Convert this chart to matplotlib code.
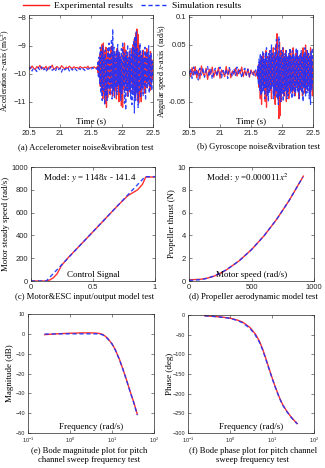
import numpy as np
import matplotlib
matplotlib.use("Agg")
import matplotlib.pyplot as plt
from matplotlib.ticker import FuncFormatter

plt.rcParams['font.family'] = ['Liberation Serif', 'DejaVu Serif']
plt.rcParams['mathtext.fontset'] = 'stix'

# ---- (a)/(b) noise & vibration tests ----
t_quiet = np.linspace(20.5, 21.575, 44)
t_active = np.linspace(21.6, 22.5, 91)

acc_exp_quiet = [-9.76, -9.82, -9.72, -9.80, -9.85, -9.74, -9.79, -9.70, -9.83, -9.77,
                 -9.81, -9.73, -9.86, -9.75, -9.78, -9.69, -9.84, -9.80, -9.74, -9.79,
                 -9.82, -9.71, -9.77, -9.83, -9.76, -9.80, -9.73, -9.78, -9.81, -9.75,
                 -9.79, -9.77, -9.82, -9.74, -9.78, -9.80, -9.76, -9.79, -9.73, -9.81,
                 -9.77, -9.78, -9.75, -9.80]
acc_sim_quiet = [-9.85, -9.76, -9.90, -9.79, -9.84, -9.92, -9.78, -9.87, -9.75, -9.89,
                 -9.81, -9.93, -9.80, -9.86, -9.74, -9.88, -9.83, -9.91, -9.77, -9.85,
                 -9.80, -9.94, -9.79, -9.86, -9.82, -9.76, -9.90, -9.81, -9.87, -9.78,
                 -9.84, -9.89, -9.80, -9.85, -9.77, -9.83, -9.88, -9.79, -9.84, -9.81,
                 -9.86, -9.78, -9.83, -9.80]
acc_exp_active = [-9.75, -9.95, -9.55, -10.10, -9.30, -10.45, -9.10, -10.60, -8.95, -10.90,
                  -8.90, -10.70, -9.20, -11.05, -9.05, -11.20, -9.40, -10.85, -9.15, -10.40,
                  -9.30, -10.75, -9.05, -10.50, -9.00, -10.80, -9.35, -10.30, -9.20, -10.60,
                  -9.45, -10.90, -9.10, -10.45, -9.30, -11.00, -9.25, -10.70, -9.40, -11.15,
                  -9.60, -11.20, -9.05, -10.55, -8.90, -10.35, -9.15, -10.60, -9.35, -10.80,
                  -9.50, -10.40, -9.20, -10.65, -9.45, -10.30, -9.10, -10.70, -8.95, -10.50,
                  -8.75, -10.85, -8.55, -10.60, -8.40, -10.95, -8.60, -11.05, -9.00, -10.80,
                  -9.20, -11.00, -9.35, -10.55, -9.15, -10.40, -9.40, -10.70, -9.25, -10.30,
                  -9.10, -10.50, -9.45, -10.25, -9.35, -10.60, -9.20, -10.40, -9.50, -10.20,
                  -9.60]
acc_sim_active = [-9.85, -9.60, -10.15, -9.40, -10.35, -9.05, -10.70, -9.20, -10.95, -9.00,
                  -10.60, -9.35, -11.10, -9.15, -10.80, -9.50, -10.95, -9.10, -10.55, -8.90,
                  -10.70, -9.25, -10.45, -8.75, -10.90, -8.40, -10.60, -9.05, -10.85, -9.30,
                  -10.50, -9.15, -10.75, -8.95, -10.40, -9.20, -10.65, -9.40, -10.95, -9.10,
                  -10.70, -8.85, -10.45, -9.25, -11.05, -9.35, -11.30, -9.20, -10.60, -8.95,
                  -10.80, -9.40, -10.55, -9.10, -10.90, -9.30, -11.10, -9.05, -10.75, -8.80,
                  -11.40, -8.65, -10.95, -8.50, -10.70, -9.10, -11.20, -9.25, -10.60, -8.90,
                  -10.85, -9.35, -10.50, -9.15, -10.80, -9.45, -10.40, -9.05, -10.95, -9.30,
                  -10.55, -9.20, -10.35, -9.00, -10.70, -9.40, -10.45, -9.25, -10.60, -9.55,
                  -10.10]

gyr_exp_quiet = [0.004, -0.006, 0.010, -0.003, 0.012, -0.008, 0.006, -0.010, 0.013, 0.000,
                 -0.005, 0.009, -0.011, 0.007, -0.002, 0.011, -0.007, 0.005, -0.004, 0.010,
                 -0.009, 0.006, 0.001, -0.006, 0.012, -0.003, 0.008, -0.008, 0.004, -0.002,
                 0.009, -0.005, 0.007, -0.001, 0.011, -0.006, 0.005, -0.004, 0.008, -0.007,
                 0.006, -0.002, 0.004, -0.005]
gyr_sim_quiet = [-0.002, 0.008, -0.009, 0.011, -0.004, 0.007, -0.012, 0.009, -0.003, 0.010,
                 -0.007, 0.004, 0.012, -0.006, 0.008, -0.010, 0.003, 0.009, -0.005, 0.006,
                 0.011, -0.008, 0.005, -0.003, 0.007, -0.009, 0.010, 0.002, -0.006, 0.008,
                 -0.004, 0.011, -0.002, 0.006, -0.008, 0.004, 0.009, -0.003, 0.007, -0.006,
                 0.005, 0.001, -0.004, 0.006]
gyr_exp_active = [0.005, -0.010, 0.015, -0.025, 0.020, -0.045, 0.025, -0.055, 0.030, -0.020,
                  0.035, -0.030, 0.020, -0.050, 0.040, -0.060, 0.015, -0.035, 0.030, -0.025,
                  0.040, -0.030, 0.025, -0.045, 0.035, -0.020, 0.045, -0.040, 0.030, -0.055,
                  0.050, -0.035, 0.070, -0.045, 0.030, -0.080, 0.055, -0.075, 0.040, -0.050,
                  0.035, -0.030, 0.045, -0.040, 0.030, -0.025, 0.040, -0.050, 0.025, -0.035,
                  0.030, -0.045, 0.035, -0.030, 0.040, -0.025, 0.030, -0.035, 0.045, -0.030,
                  0.025, -0.040, 0.035, -0.020, 0.040, -0.030, 0.030, -0.045, 0.025, -0.030,
                  0.035, -0.025, 0.030, -0.040, 0.045, -0.020, 0.030, -0.035, 0.050, -0.025,
                  0.040, -0.030, 0.035, -0.020, 0.030, -0.035, 0.045, -0.025, 0.030, -0.040,
                  0.020]
gyr_sim_active = [-0.005, 0.012, -0.020, 0.025, -0.030, 0.035, -0.040, 0.030, -0.035, 0.040,
                  -0.030, 0.025, -0.045, 0.035, -0.025, 0.045, -0.040, 0.030, -0.050, 0.035,
                  -0.035, 0.040, -0.030, 0.050, -0.025, 0.035, -0.045, 0.030, -0.040, 0.045,
                  -0.030, 0.060, -0.045, 0.035, -0.055, 0.065, -0.040, 0.030, -0.050, 0.040,
                  -0.035, 0.045, -0.050, 0.030, -0.040, 0.035, -0.030, 0.040, -0.045, 0.030,
                  -0.040, 0.035, -0.025, 0.045, -0.035, 0.030, -0.045, 0.040, -0.030, 0.035,
                  -0.040, 0.030, -0.035, 0.045, -0.025, 0.040, -0.035, 0.030, -0.045, 0.035,
                  -0.030, 0.040, -0.035, 0.030, -0.050, 0.035, -0.025, 0.045, -0.040, 0.030,
                  -0.035, 0.040, -0.030, 0.035, -0.045, 0.030, -0.055, 0.040, -0.030, 0.045,
                  -0.020]

# ---- (c) motor & ESC ----
ctrl_exp = [0, 0.125, 0.15, 0.18, 0.21, 0.245, 0.3, 0.4, 0.5, 0.6, 0.7, 0.78, 0.86, 0.9, 0.925, 1.0]
speed_exp = [0, 0, 8, 28, 62, 135, 205, 318, 432, 547, 662, 748, 800, 850, 912, 912]
ctrl_sim = [0, 0.123, 0.2, 0.3, 0.4, 0.5, 0.6, 0.7, 0.8, 0.92, 1.0]
speed_sim = [0, 0, 88, 203, 318, 433, 547, 662, 777, 915, 915]

# ---- (d) propeller ----
omega_exp = [0, 100, 150, 200, 250, 300, 400, 500, 600, 700, 800, 915]
thrust_exp = [0.1, 0.16, 0.26, 0.42, 0.68, 0.98, 1.76, 2.75, 3.96, 5.39, 7.04, 9.2]
omega_sim = [0, 100, 150, 200, 250, 300, 400, 500, 600, 700, 800, 910]
thrust_sim = [0.05, 0.12, 0.25, 0.44, 0.69, 0.99, 1.76, 2.75, 3.96, 5.39, 7.04, 9.11]

# ---- (e)/(f) bode ----
freq = [0.25, 0.3, 0.4, 0.6, 1, 1.5, 2, 3, 4, 5, 6, 7, 8, 10, 12, 15, 18, 22, 27, 33, 40]
mag_exp = [-0.4, -0.3, -0.1, 0.1, 0.3, 0.4, 0.5, 0.5, 0.4, 0.2, -0.3, -1.3, -2.5, -5, -8,
           -12.8, -17.5, -23, -29, -34.5, -40.5]
mag_sim = [-0.1, -0.1, -0.05, 0, 0, 0, 0, 0, 0, -0.1, -0.5, -1.4, -2.6, -5.1, -8.2,
           -13, -17.6, -23.2, -29.2, -34.8, -41]
phase_exp = [-2, -2.5, -3.5, -5, -8, -13, -18, -32, -48, -66, -87, -108, -127, -159, -183,
             -210, -228, -243, -256, -267, -276]
phase_sim = [-2, -2.6, -3.6, -5.3, -8.5, -14, -20, -34, -51, -69, -89, -110, -129, -160, -184,
             -211, -229, -244, -257, -268, -277]

RED = '#ff1a1a'
BLUE = '#1a33ff'
W, H = 325.0, 468.0
TICKFONT = ['Liberation Sans', 'DejaVu Sans']


def px_axes(fig, left, right, top, bottom):
    return fig.add_axes([left / W, 1 - bottom / H, (right - left) / W, (bottom - top) / H])


def style_axes(ax, tsize=5.5):
    for s in ax.spines.values():
        s.set_color('0.15')
        s.set_linewidth(0.5)
    ax.tick_params(direction='in', length=2, width=0.4, labelsize=tsize,
                   top=True, right=True, colors='0.15', pad=2)
    for lab in ax.get_xticklabels() + ax.get_yticklabels():
        lab.set_family(TICKFONT)


def draw_pair(ax, x1, y1, x2, y2, lw=1.0):
    ax.plot(x1, y1, color=RED, lw=lw, alpha=0.9)
    ax.plot(x2, y2, color=BLUE, lw=lw, ls=(0, (3, 2)), alpha=0.9)


def inner_label(ax, text):
    ax.text(0.5, 0.02, text, transform=ax.transAxes, ha='center', va='bottom', fontsize=6.5)


def ylabel_at(ax, text, xpx, left_px, width_px, size=6.3):
    # xpx is the right edge of the rotated label, in figure pixels
    ax.set_ylabel(text, fontsize=size)
    ax.yaxis.set_label_coords((xpx - left_px) / width_px, 0.5)


fig = plt.figure(figsize=(W / 100, H / 100), dpi=100)
g = FuncFormatter(lambda v, p: '%g' % v)

# (a)
ax = px_axes(fig, 29, 153, 15, 127)
draw_pair(ax, np.concatenate([t_quiet, t_active]), acc_exp_quiet + acc_exp_active,
          np.concatenate([t_quiet, t_active]), acc_sim_quiet + acc_sim_active, lw=0.9)
ax.set_xlim(20.5, 22.5)
ax.set_ylim(-11.9, -7.9)
ax.set_xticks([20.5, 21, 21.5, 22, 22.5])
ax.set_yticks([-11, -10, -9, -8])
ax.xaxis.set_major_formatter(g)
ylabel_at(ax, 'Acceleration $z$-axis (m/s$^2$)', 12.5, 29, 124, size=5.6)
inner_label(ax, 'Time (s)')
style_axes(ax)

# (b)
ax = px_axes(fig, 189, 313, 15, 127)
draw_pair(ax, np.concatenate([t_quiet, t_active]), gyr_exp_quiet + gyr_exp_active,
          np.concatenate([t_quiet, t_active]), gyr_sim_quiet + gyr_sim_active, lw=0.9)
ax.set_xlim(20.5, 22.5)
ax.set_ylim(-0.095, 0.103)
ax.set_xticks([20.5, 21, 21.5, 22, 22.5])
ax.set_yticks([-0.05, 0, 0.05, 0.1])
ax.xaxis.set_major_formatter(g)
ax.yaxis.set_major_formatter(g)
ylabel_at(ax, 'Angular speed $x$-axis  (rad/s)', 168, 189, 124, size=5.8)
inner_label(ax, 'Time (s)')
style_axes(ax)

# (c)
ax = px_axes(fig, 31, 155, 167, 281)
draw_pair(ax, ctrl_exp, speed_exp, ctrl_sim, speed_sim)
ax.set_xlim(0, 1)
ax.set_ylim(0, 1000)
ax.set_xticks([0, 0.5, 1])
ax.xaxis.set_major_formatter(g)
ylabel_at(ax, 'Motor steady speed (rad/s)', 10, 31, 124)
ax.text(0.47, 0.96, 'Model: $y$ = 1148$x$ - 141.4', transform=ax.transAxes,
        ha='center', va='top', fontsize=6.5)
inner_label(ax, 'Control Signal')
style_axes(ax)

# (d)
ax = px_axes(fig, 189, 314, 167, 281)
draw_pair(ax, omega_exp, thrust_exp, omega_sim, thrust_sim)
ax.set_xlim(0, 1000)
ax.set_ylim(0, 10)
ax.set_xticks([0, 500, 1000])
ylabel_at(ax, 'Propeller thrust (N)', 176, 189, 125)
ax.text(0.47, 0.96, 'Model: $y$ =0.000011$x^2$', transform=ax.transAxes,
        ha='center', va='top', fontsize=6.5)
inner_label(ax, 'Motor speed (rad/s)')
style_axes(ax)

# (e)
ax = px_axes(fig, 28, 154, 314, 433)
draw_pair(ax, freq, mag_exp, freq, mag_sim)
ax.set_xscale('log')
ax.set_xlim(0.1, 100)
ax.set_ylim(-50, 10)
ax.set_yticks([10, 0, -10, -20, -30, -40, -50])
ax.minorticks_off()
ylabel_at(ax, 'Magnitude (dB)', 14, 28, 126, size=6.5)
inner_label(ax, 'Frequency (rad/s)')
style_axes(ax, tsize=4)

# (f)
ax = px_axes(fig, 188, 314, 315, 433)
draw_pair(ax, freq, phase_exp, freq, phase_sim)
ax.set_xscale('log')
ax.set_xlim(0.1, 100)
ax.set_ylim(-300, 0)
ax.set_yticks([0, -50, -100, -150, -200, -250, -300])
ax.minorticks_off()
ylabel_at(ax, 'Phase (deg)', 174, 188, 126, size=6.5)
inner_label(ax, 'Frequency (rad/s)')
style_axes(ax, tsize=4)

# captions
cap = dict(ha='center', va='center', fontsize=6.2)
fig.text(86 / W, 1 - 147 / H, '(a) Accelerometer noise&vibration test', **cap)
fig.text(259 / W, 1 - 147 / H, '(b) Gyroscope noise&vibration test', **cap)
fig.text(85 / W, 1 - 297 / H, '(c) Motor&ESC input/output model test', **cap)
fig.text(253 / W, 1 - 297 / H, '(d) Propeller aerodynamic model test', **cap)
fig.text(89 / W, 1 - 455.5 / H, '(e) Bode magnitude plot for pitch\nchannel sweep frequency test',
         linespacing=1.1, **cap)
fig.text(253 / W, 1 - 455.5 / H, '(f) Bode phase plot for pitch channel\nsweep frequency test',
         linespacing=1.1, **cap)

# legend
h1, = plt.plot([], [], color=RED, lw=1.0)
h2, = plt.plot([], [], color=BLUE, lw=1.0, ls=(0, (3, 2)))
fig.legend([h1, h2], ['Experimental results', 'Simulation results'], loc='center',
           bbox_to_anchor=(132 / W, 1 - 6 / H), ncol=2, frameon=False, fontsize=6.8,
           handlelength=2.8, columnspacing=0.8, handletextpad=0.5, borderpad=0)

fig.savefig('out.png', dpi=100)
